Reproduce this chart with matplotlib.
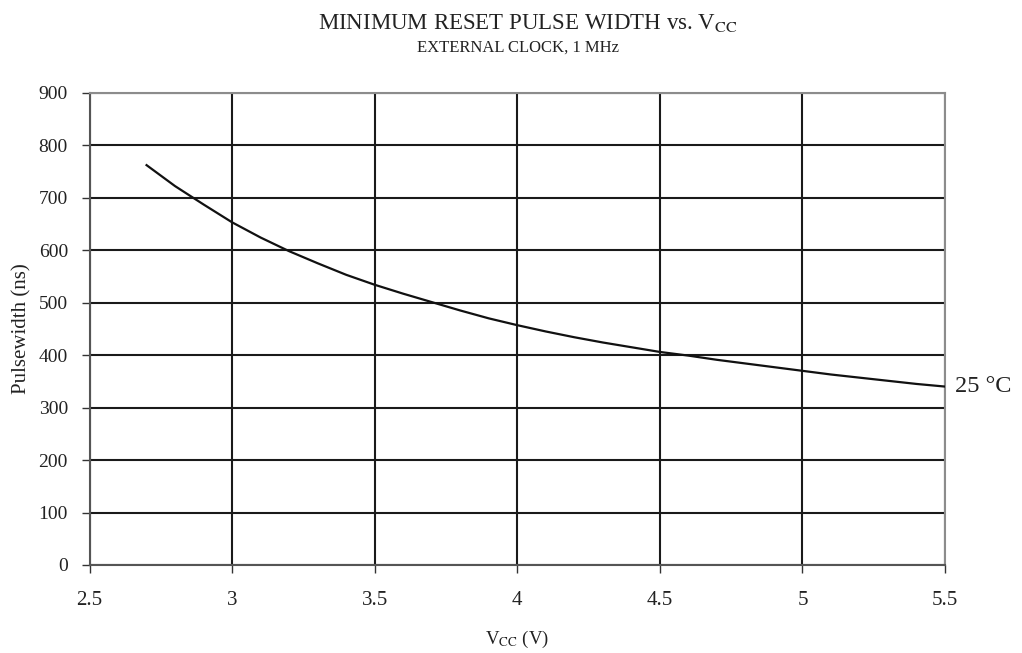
import matplotlib
matplotlib.use("Agg")
import matplotlib.pyplot as plt

plt.rcParams['font.family'] = ['Liberation Serif', 'DejaVu Serif']
plt.rcParams['mathtext.fontset'] = 'stix'

vcc = [2.7, 2.8, 2.9, 3.0, 3.1, 3.2, 3.3, 3.4, 3.5, 3.6, 3.7, 3.8, 3.9, 4.0,
       4.1, 4.2, 4.3, 4.4, 4.5, 4.6, 4.7, 4.8, 4.9, 5.0, 5.1, 5.2, 5.3, 5.4, 5.5]
pulse = [762, 722, 687, 653, 624, 598, 575, 553, 534, 517, 501, 485, 470, 457,
         445, 434, 424, 415, 406, 399, 391, 384, 377, 370, 363, 357, 351, 345, 340]
series_label = "25 °C"
xticks = [2.5, 3, 3.5, 4, 4.5, 5, 5.5]
xtick_labels = ["2.5", "3", "3.5", "4", "4.5", "5", "5.5"]
yticks = [0, 100, 200, 300, 400, 500, 600, 700, 800, 900]

fig = plt.figure(figsize=(10.22, 6.53), dpi=100)
ax = fig.add_axes([0.0876, 0.1348, 0.8371, 0.7232])

ax.set_xlim(2.5, 5.5)
ax.set_ylim(0, 900)
ax.set_xticks(xticks)
ax.set_xticklabels(xtick_labels)
ax.set_yticks(yticks)

ax.grid(True, color='#1a1a1a', linewidth=1.5)
ax.set_axisbelow(True)

ax.plot(vcc, pulse, color='#111111', linewidth=1.6, zorder=3)

for side in ['left', 'bottom']:
    ax.spines[side].set_color('#555555')
    ax.spines[side].set_linewidth(1.5)
for side in ['top', 'right']:
    ax.spines[side].set_color('#8c8c8c')
    ax.spines[side].set_linewidth(1.5)

ax.tick_params(axis='both', direction='out', length=5.5, width=1.0, color='#333333',
               labelcolor='#222222')
ax.tick_params(axis='x', pad=13, labelsize=15)
ax.tick_params(axis='y', pad=10, labelsize=14)

ax.set_ylabel("Pulsewidth (ns)", fontsize=15, color='#222222', labelpad=5)
ax.set_xlabel(r"V$_{\mathrm{CC}}$ (V)", fontsize=13.5, color='#222222', labelpad=14)

ax.annotate(series_label, xy=(vcc[-1], pulse[-1]), xytext=(7, 0),
            textcoords='offset points', ha='left', va='center',
            fontsize=17.5, color='#222222', annotation_clip=False)

fig.text(0.516, 0.965, r"MINIMUM RESET PULSE WIDTH vs. V$_{\mathrm{CC}}$",
         ha='center', va='center', fontsize=16.5, color='#222222')
fig.text(0.507, 0.927, "EXTERNAL CLOCK, 1 MHz", ha='center', va='center',
         fontsize=12, color='#222222')

fig.savefig("out.png", dpi=100, facecolor='white')
